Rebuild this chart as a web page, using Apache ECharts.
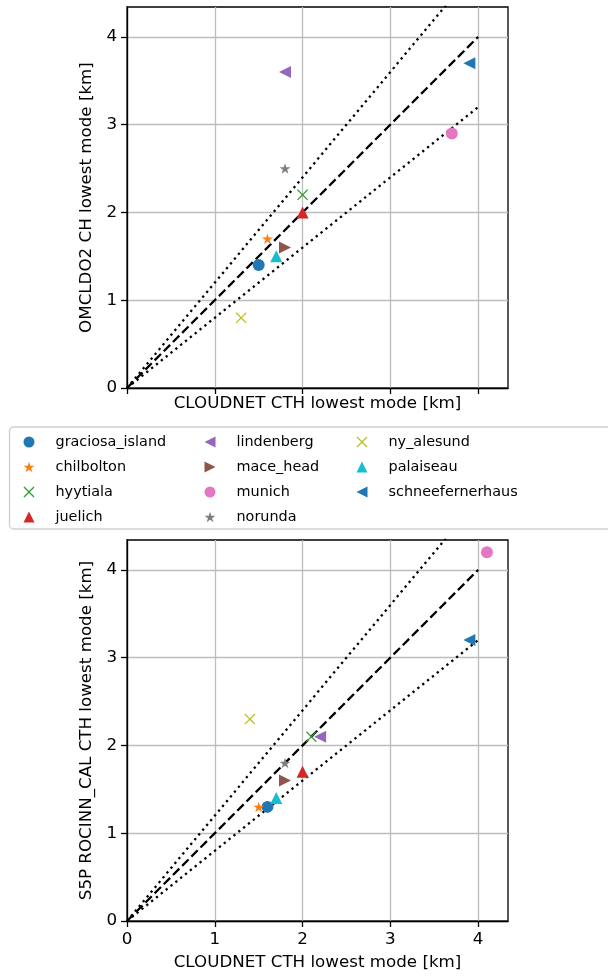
<!DOCTYPE html>
<html>
<head>
<meta charset="utf-8">
<script src="https://cdn.jsdelivr.net/npm/echarts@6/dist/echarts.min.js"></script>
<style>
html,body{margin:0;padding:0;background:#fff;}
#chart{width:608px;height:976px;}
</style>
</head>
<body>
<div id="chart"></div>
<script>
// ---- data ----
const sites = ['graciosa_island','chilbolton','hyytiala','juelich','lindenberg','mace_head','munich','norunda','ny_alesund','palaiseau','schneefernerhaus'];
const topX = [1.5, 1.6, 2.0, 2.0, 1.8, 1.8, 3.7, 1.8, 1.3, 1.7, 3.9];
const topY = [1.4, 1.7, 2.2, 2.0, 3.6, 1.6, 2.9, 2.5, 0.8, 1.5, 3.7];
const botX = [1.6, 1.5, 2.1, 2.0, 2.2, 1.8, 4.1, 1.8, 1.4, 1.7, 3.9];
const botY = [1.3, 1.3, 2.1, 1.7, 2.1, 1.6, 4.2, 1.8, 2.3, 1.4, 3.2];
const tickValues = [0, 1, 2, 3, 4];
const refRatios = [1.0, 1.2, 0.8];
const refEndX = 4;
const axisMax = 4.34;
const topYName = 'OMCLDO2 CH lowest mode [km]';
const botYName = 'S5P ROCINN_CAL CTH lowest mode [km]';
const xName = 'CLOUDNET CTH lowest mode [km]';

// ---- styles ----
const colors = ['#1f77b4','#ff7f0e','#2ca02c','#d62728','#9467bd','#8c564b','#e377c2','#7f7f7f','#bcbd22','#17becf','#1f77b4'];
const STAR = 'path://M50,0 L61.2,34.5 L97.6,34.5 L68.2,55.9 L79.4,90.5 L50,69.1 L20.6,90.5 L31.8,55.9 L2.4,34.5 L38.8,34.5 Z';
const XMK = 'path://M0,0.8 L0.8,0 L5,4.2 L9.2,0 L10,0.8 L5.8,5 L10,9.2 L9.2,10 L5,5.8 L0.8,10 L0,9.2 L4.2,5 Z';
const TUP = 'path://M5,0 L10,10 L0,10 Z';
const TLEFT = 'path://M0,5 L10,0 L10,10 Z';
const TRIGHT = 'path://M10,5 L0,0 L0,10 Z';
const symbols = ['circle', STAR, XMK, TUP, TLEFT, TRIGHT, 'circle', STAR, XMK, TUP, TLEFT];
const sizes = [12, 11, 11, 12, 12, 12, 12, 11, 11, 12, 12];

const FONT = 'DejaVu Sans';
const AFS = 16.7;

function makeAxes(gridIndex, showXLabels, yName) {
  const common = {
    type: 'value', min: 0, max: axisMax, interval: 1, gridIndex: gridIndex,
    axisLine: {show: true, onZero: false, lineStyle: {color: '#000', width: 1.3}},
    axisTick: {show: true, inside: false, length: 6, lineStyle: {color: '#000', width: 1.3}, customValues: tickValues},
    splitLine: {show: true, lineStyle: {color: '#bdbdbd', width: 1.3}},
    nameTextStyle: {fontFamily: FONT, fontSize: AFS, color: '#000'}
  };
  const x = Object.assign({}, common, {
    name: xName, nameLocation: 'middle', nameGap: showXLabels ? 33 : 7,
    axisLabel: {show: showXLabels, fontFamily: FONT, fontSize: AFS, color: '#000', margin: 10, customValues: tickValues}
  });
  const y = Object.assign({}, common, {
    name: yName, nameLocation: 'middle', nameGap: 25,
    axisLabel: {show: true, fontFamily: FONT, fontSize: AFS, color: '#000', margin: 10, customValues: tickValues}
  });
  return {x, y};
}

const a0 = makeAxes(0, false, topYName);
const a1 = makeAxes(1, true, botYName);

const series = [];
function addPanel(idx, xs, ys) {
  refRatios.forEach((r, k) => {
    series.push({
      type: 'line', xAxisIndex: idx, yAxisIndex: idx, silent: true, clip: true,
      symbol: 'none', z: 1,
      data: [[0, 0], [refEndX, refEndX * r]],
      lineStyle: k === 0 ? {color: '#000', width: 2.3, type: [9, 4]} : {color: '#000', width: 2.3, type: [2.3, 3.9]}
    });
  });
  sites.forEach((s, i) => {
    series.push({
      name: s, type: 'scatter', xAxisIndex: idx, yAxisIndex: idx, z: 3,
      symbol: symbols[i], symbolSize: sizes[i], symbolKeepAspect: true,
      itemStyle: {color: colors[i], opacity: 1},
      data: [[xs[i], ys[i]]]
    });
  });
}
addPanel(0, topX, topY);
addPanel(1, botX, botY);

function legendCol(names, left) {
  return {
    orient: 'vertical', left: left, top: 435, padding: 0, itemWidth: 11, itemHeight: 11, itemGap: 11,
    data: names, selectedMode: false,
    textStyle: {fontFamily: FONT, fontSize: 14.4, color: '#000', padding: [0, 0, 0, 16]}
  };
}

const option = {
  animation: false,
  backgroundColor: '#fff',
  grid: [
    {left: 127, top: 7, width: 381, height: 381, show: true, borderColor: '#000', borderWidth: 1.3, backgroundColor: 'transparent'},
    {left: 127, top: 540, width: 381, height: 381, show: true, borderColor: '#000', borderWidth: 1.3, backgroundColor: 'transparent'}
  ],
  xAxis: [a0.x, a1.x],
  yAxis: [a0.y, a1.y],
  legend: [
    legendCol(sites.slice(0, 4), 23.5),
    legendCol(sites.slice(4, 8), 204.5),
    legendCol(sites.slice(8, 11), 356.5)
  ],
  graphic: [{
    type: 'rect', shape: {x: 9.5, y: 427, width: 620, height: 102, r: 4},
    style: {fill: '#fff', stroke: '#d0d0d0', lineWidth: 1.3}, z: -1, silent: true
  }],
  series: series
};

const chart = echarts.init(document.getElementById('chart'), null, {renderer: 'canvas'});
chart.setOption(option);
</script>
</body>
</html>
